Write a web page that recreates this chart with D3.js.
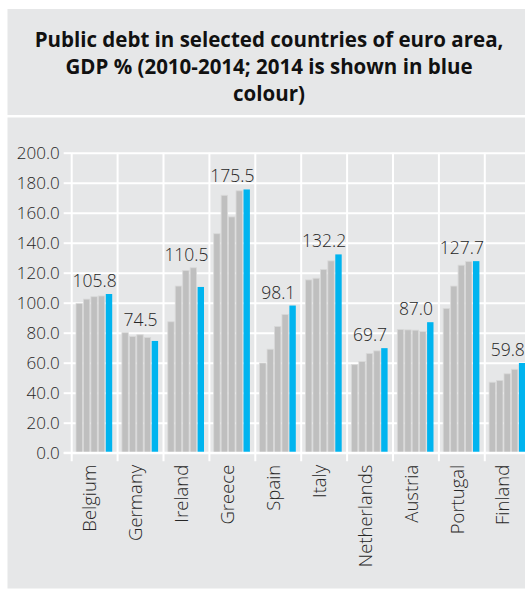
<!DOCTYPE html>
<html>
<head>
<meta charset="utf-8">
<script src="https://cdn.jsdelivr.net/npm/d3@7"></script>
<style>
  html, body { margin: 0; padding: 0; background: #ffffff; }
  svg { display: block; }
</style>
</head>
<body>
<script>
// ---- data ----
const titleLines = ["Public debt in selected countries of euro area,", "GDP % (2010-2014; 2014 is shown in blue", "colour)"];
const categories = ["Belgium", "Germany", "Ireland", "Greece", "Spain", "Italy", "Netherlands", "Austria", "Portugal", "Finland"];
const years = ["2010", "2011", "2012", "2013", "2014"];
const values2010 = [99.4, 80.0, 87.3, 146.0, 59.8, 115.2, 58.7, 82.2, 96.2, 47.0];
const values2011 = [102.4, 77.4, 111.1, 171.6, 69.0, 116.3, 60.8, 81.9, 111.1, 48.2];
const values2012 = [104.0, 78.6, 121.5, 157.2, 84.2, 122.2, 66.2, 81.7, 125.0, 52.6];
const values2013 = [104.5, 76.8, 123.3, 174.6, 92.2, 127.9, 67.9, 80.8, 127.4, 55.6];
const values2014 = [105.8, 74.5, 110.5, 175.5, 98.1, 132.2, 69.7, 87.0, 127.7, 59.8];
const yTicks = [0, 20, 40, 60, 80, 100, 120, 140, 160, 180, 200];

const seriesByYear = [values2010, values2011, values2012, values2013, values2014];

const W = 525, H = 589;
const panelFill = "#e6e7e8";
const grey = "#bfbfbf";
const blue = "#00b4ef";
const textColor = "#262626";
const fontFamily = "'Open Sans', 'Noto Sans', sans-serif";

const svg = d3.select("body").append("svg").attr("width", W).attr("height", H);

// panels
svg.append("rect").attr("x", 7.5).attr("y", 9).attr("width", W - 7.5).attr("height", 106).attr("fill", panelFill);
svg.append("rect").attr("x", 7.5).attr("y", 117.5).attr("width", W - 7.5).attr("height", 471).attr("fill", panelFill);

// title
svg.append("text")
  .attr("text-anchor", "middle")
  .attr("font-family", fontFamily)
  .attr("font-weight", 700)
  .attr("font-size", 20.5)
  .attr("fill", "#111")
  .selectAll("tspan").data(titleLines).join("tspan")
  .attr("x", 269)
  .attr("y", (d, i) => 47 + i * 27)
  .text(d => d);

// scales
const plotLeft = 71.7, catW = 45.9;
const x = d3.scaleBand().domain(categories).range([plotLeft, plotLeft + catW * categories.length]).padding(0);
const y = d3.scaleLinear().domain([0, 200]).range([452.7, 152.7]);
const xYear = d3.scaleBand().domain(years).range([4.3, 40.5]).paddingInner(0.14).paddingOuter(0);

// horizontal gridlines + y axis
const yAxis = d3.axisLeft(y).tickValues(yTicks).tickFormat(d3.format(".1f")).tickSize(8).tickPadding(4);
const gy = svg.append("g").attr("transform", `translate(${plotLeft},0)`).call(yAxis);
gy.select(".domain").remove();
gy.selectAll(".tick line").attr("stroke", "#fff").attr("stroke-width", 2);
gy.selectAll(".tick text")
  .attr("font-family", fontFamily).attr("font-size", 17).attr("font-weight", 300)
  .attr("fill", textColor).attr("dy", "0.36em");

const grid = d3.axisLeft(y).tickValues(yTicks).tickSize(-(W - plotLeft)).tickFormat("");
const gg = svg.insert("g", "g").attr("transform", `translate(${plotLeft},0)`).call(grid);
gg.select(".domain").remove();
gg.selectAll(".tick line").attr("stroke", "#fff").attr("stroke-width", 2);

// vertical gridlines at category boundaries (extending below the axis as ticks)
const bounds = categories.map(c => x(c));
svg.insert("g", "g").selectAll("line").data(bounds).join("line")
  .attr("x1", d => d).attr("x2", d => d)
  .attr("y1", y(200)).attr("y2", y(0) + 8.5)
  .attr("stroke", "#fff").attr("stroke-width", 2);

// bars
const rows = [];
categories.forEach((c, ci) => {
  years.forEach((yr, yi) => rows.push({ c, yr, yi, v: seriesByYear[yi][ci] }));
});
svg.append("g").selectAll("rect").data(rows).join("rect")
  .attr("x", d => x(d.c) + xYear(d.yr))
  .attr("y", d => y(d.v))
  .attr("width", xYear.bandwidth())
  .attr("height", d => y(0) - y(d.v))
  .attr("fill", d => d.yi === 4 ? blue : grey)
  .attr("stroke", d => d.yi === 4 ? "none" : "#d9d9d9")
  .attr("stroke-width", 0.8);

// x axis line
svg.append("line").attr("x1", plotLeft - 8).attr("x2", W).attr("y1", y(0)).attr("y2", y(0))
  .attr("stroke", "#fff").attr("stroke-width", 2);

// value labels (2014)
svg.append("g").selectAll("text").data(categories).join("text")
  .attr("x", c => x(c) + x.bandwidth() / 2)
  .attr("y", (c, i) => y(d3.max(seriesByYear, s => s[i])) - 7)
  .attr("text-anchor", "middle")
  .attr("font-family", fontFamily).attr("font-size", 17.5).attr("font-weight", 300)
  .attr("fill", textColor)
  .text((c, i) => d3.format(".1f")(values2014[i]));

// category labels
const xAxis = d3.axisBottom(x).tickSize(0).tickPadding(0);
const gx = svg.append("g").attr("transform", `translate(0,${y(0)})`).call(xAxis);
gx.select(".domain").remove();
gx.selectAll(".tick text")
  .attr("font-family", fontFamily).attr("font-size", 18.5).attr("font-weight", 300)
  .attr("fill", textColor)
  .attr("text-anchor", "end")
  .attr("transform", "rotate(-90)")
  .attr("x", -12).attr("y", -5).attr("dy", "0.36em");
</script>
</body>
</html>
